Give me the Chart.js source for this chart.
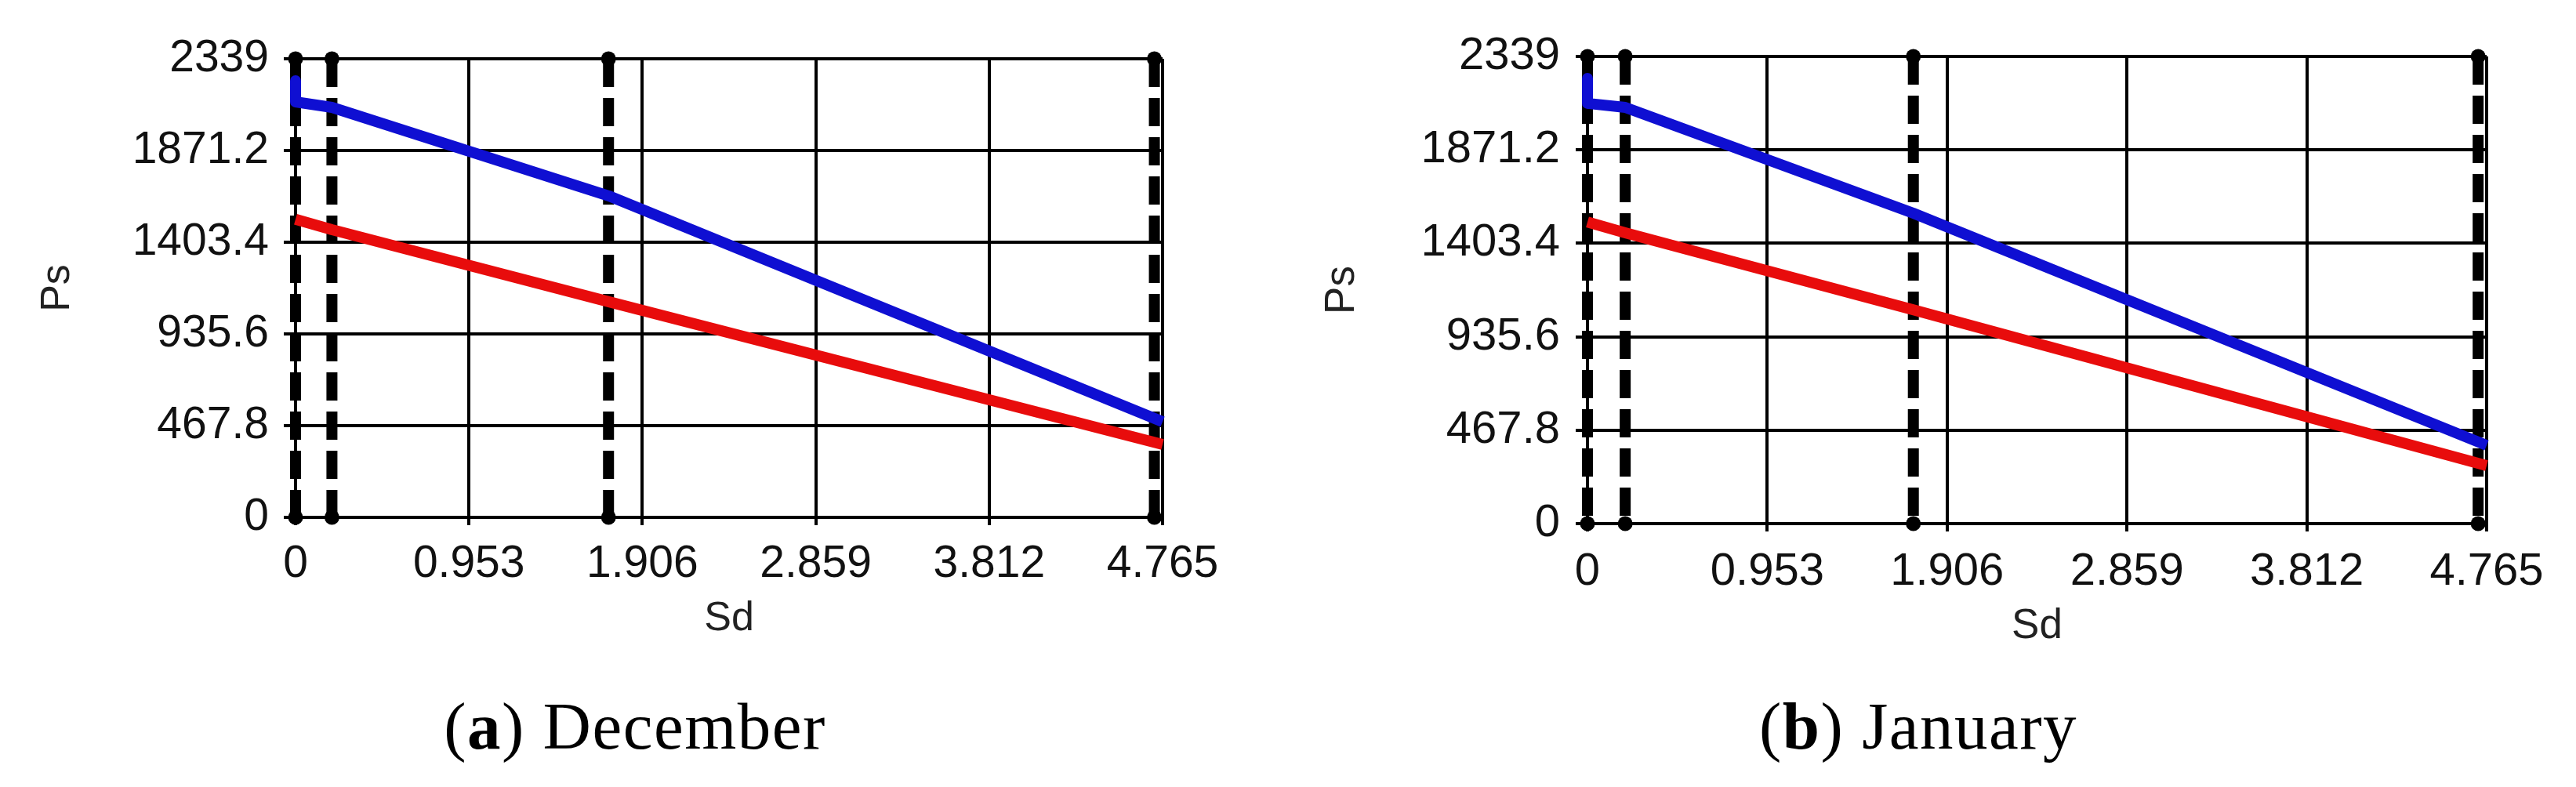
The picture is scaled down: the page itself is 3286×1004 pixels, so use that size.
<!DOCTYPE html>
<html><head><meta charset="utf-8">
<script src="https://cdn.jsdelivr.net/npm/chart.js@4"></script>
<style>
html,body{margin:0;padding:0;background:#fff;}
#wrap{position:relative;width:3286px;height:1004px;overflow:hidden;background:#fff;}
canvas{position:absolute;top:0;}
.cap{position:absolute;font-family:"Liberation Serif",serif;font-size:85px;line-height:85px;white-space:nowrap;transform:translateX(-50%);color:#000;letter-spacing:1.5px;}
</style></head><body>
<div id="wrap">
<canvas id="c1" width="1643" height="1004" style="left:0"></canvas>
<canvas id="c2" width="1643" height="1004" style="left:1643px"></canvas>
<div class="cap" style="left:810px;top:884px">(<b>a</b>) December</div>
<div class="cap" style="left:2447px;top:884px">(<b>b</b>) January</div>
</div>
<script>
// ---- data ----
const xTicks = [0, 0.953, 1.906, 2.859, 3.812, 4.765];
const xTickLabels = ['0', '0.953', '1.906', '2.859', '3.812', '4.765'];
const yTicks = [0, 467.8, 935.6, 1403.4, 1871.2, 2339];
const yTickLabels = ['0', '467.8', '935.6', '1403.4', '1871.2', '2339'];

// December
const decBlueSd = [0, 0, 0.2, 1.72, 4.765];
const decBluePs = [2227, 2119, 2091, 1640, 488];
const decRedSd = [0, 0.2, 1.72, 4.765];
const decRedPs = [1520, 1467, 1100, 372];
const decMarkers = [0, 0.2, 1.72, 4.72];

// January
const janBlueSd = [0, 0, 0.2, 1.727, 4.765];
const janBluePs = [2229, 2104, 2084, 1554, 392];
const janRedSd = [0, 0.2, 1.727, 4.765];
const janRedPs = [1510, 1456, 1070, 290];
const janMarkers = [0, 0.2, 1.727, 4.72];

const BLUE = '#0f0fd2';
const RED = '#e80c0c';

function build(id, bSd, bPs, rSd, rPs, markers, g) {
  const yTop = yTicks[yTicks.length - 1];
  const datasets = [
    { data: bSd.map((x, i) => ({x: x, y: bPs[i]})), borderColor: BLUE, borderWidth: 14,
      pointRadius: 0, showLine: true, tension: 0, clip: false, borderJoinStyle: 'round' },
    { data: rSd.map((x, i) => ({x: x, y: rPs[i]})), borderColor: RED, borderWidth: 14,
      pointRadius: 0, showLine: true, tension: 0, clip: false, borderJoinStyle: 'round' }
  ];
  markers.forEach(m => {
    datasets.push({
      data: [{x: m, y: yTop}, {x: m, y: yTicks[0]}],
      borderColor: '#000', borderWidth: 14, borderDash: [36, 14], showLine: true,
      pointRadius: 9.5, pointBackgroundColor: '#000', pointBorderWidth: 0, clip: false
    });
  });
  return new Chart(document.getElementById(id), {
    type: 'scatter',
    data: { datasets: datasets },
    options: {
      responsive: false, animation: false, devicePixelRatio: 1,
      events: [],
      layout: { padding: { left: 0, top: g.top, right: g.right, bottom: g.bottom } },
      plugins: { legend: { display: false }, tooltip: { enabled: false } },
      scales: {
        x: {
          type: 'linear', min: xTicks[0], max: xTicks[xTicks.length - 1],
          afterBuildTicks: s => { s.ticks = xTicks.map(v => ({value: v})); },
          afterFit: s => { s.height = g.xh; },
          ticks: { callback: (v, i) => xTickLabels[i], autoSkip: false, maxRotation: 0, minRotation: 0,
                   padding: g.xpad, color: '#111', font: { family: 'Liberation Sans', size: g.fs } },
          grid: { color: '#000', lineWidth: 4, tickLength: 10, drawTicks: true },
          border: { color: '#000', width: 4 },
          title: { display: true, text: 'Sd', color: '#222', padding: 0,
                   font: { family: 'Liberation Sans', size: g.ts } }
        },
        y: {
          type: 'linear', min: yTicks[0], max: yTop,
          afterBuildTicks: s => { s.ticks = yTicks.map(v => ({value: v})); },
          afterFit: s => { s.width = g.yw; },
          ticks: { callback: (v, i) => yTickLabels[i], autoSkip: false,
                   padding: g.ypad, color: '#111', font: { family: 'Liberation Sans', size: g.fs } },
          grid: { color: '#000', lineWidth: 4, tickLength: 15, drawTicks: true },
          border: { color: '#000', width: 4 },
          title: { display: true, text: 'Ps', color: '#222', padding: { top: g.ytp, bottom: 0 },
                   font: { family: 'Liberation Sans', size: g.ts } }
        }
      }
    }
  });
}

build('c1', decBlueSd, decBluePs, decRedSd, decRedPs, decMarkers,
  { top: 75, right: 160, bottom: 183, xh: 161, xpad: 16, yw: 377, ypad: 19, ytp: 42, fs: 57, ts: 52 });
build('c2', janBlueSd, janBluePs, janRedSd, janRedPs, janMarkers,
  { top: 72, right: 114, bottom: 173, xh: 163, xpad: 17, yw: 382, ypad: 20, ytp: 38, fs: 58, ts: 53 });
</script>
</body></html>
